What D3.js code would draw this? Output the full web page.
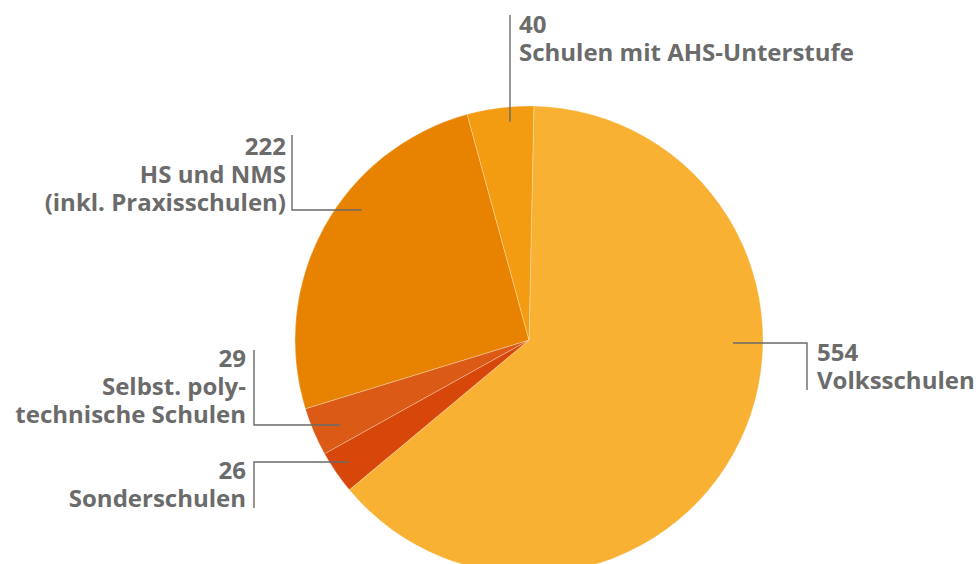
<!DOCTYPE html>
<html>
<head>
<meta charset="utf-8">
<script src="https://cdn.jsdelivr.net/npm/d3@7"></script>
<style>
  body { margin: 0; background: #fff; }
  svg { display: block; }
</style>
</head>
<body>
<div id="chart"></div>
<script>
const width = 979;
const height = 564;

// data, in drawing order (clockwise from the top)
const categories = ['Volksschulen', 'Sonderschulen', 'Selbst. polytechnische Schulen', 'HS und NMS (inkl. Praxisschulen)', 'Schulen mit AHS-Unterstufe'];
const values = [554, 26, 29, 222, 40];
const colors = ['#f8b133', '#d8470a', '#da5a16', '#e88301', '#f39c11'];
const labelLines = [
    ['Volksschulen'],
    ['Sonderschulen'],
    ['Selbst. poly-', 'technische Schulen'],
    ['HS und NMS', '(inkl. Praxisschulen)'],
    ['Schulen mit AHS-Unterstufe']
];

// label layout: leader end inside slice (r, angle in deg) + text anchor
const labelLayout = [
    {r: 204, a: 90.8,  elbow: [807, 343], bar: [807, 390], tx: 817, ty: 361, anchor: 'start'},
    {r: 218, a: 236.0, elbow: [254, 462], bar: [254, 508], tx: 246, ty: 479, anchor: 'end'},
    {r: 207, a: 245.8, elbow: [254, 425], bar: [254, 350], tx: 246, ty: 367, anchor: 'end'},
    {r: 212, a: 307.9, elbow: [292, 210], bar: [292, 135], tx: 286, ty: 155, anchor: 'end'},
    {r: 219, a: 355.3, elbow: null,       bar: [510, 15],  tx: 519, ty: 33,  anchor: 'start'}
];

const cx = 529, cy = 340, radius = 234;
const startOffset = 1.2 * Math.PI / 180;

const svg = d3.select('#chart')
    .append('svg')
    .attr('width', width)
    .attr('height', height);

const pie = d3.pie()
    .sort(null)
    .value(d => d)
    .startAngle(startOffset)
    .endAngle(2 * Math.PI + startOffset);

const arcs = pie(values);

const arc = d3.arc()
    .innerRadius(0)
    .outerRadius(radius);

const g = svg.append('g').attr('transform', `translate(${cx},${cy})`);

g.selectAll('path')
    .data(arcs)
    .join('path')
        .attr('d', arc)
        .attr('fill', (d, i) => colors[i])
        .attr('stroke', 'rgba(255,255,255,0.35)')
        .attr('stroke-width', 0.8);

// leader lines
const polar = (r, a) => {
    const rad = a * Math.PI / 180;
    return [cx + r * Math.sin(rad), cy - r * Math.cos(rad)];
};

const leaders = svg.append('g')
    .attr('fill', 'none')
    .attr('stroke', '#6a6a6a')
    .attr('stroke-width', 1.4);

labelLayout.forEach((l, i) => {
    const end = polar(l.r, l.a);
    let pts;
    if (l.elbow) {
        pts = [[end[0], l.elbow[1]], l.elbow, l.bar];
    } else {
        pts = [[l.bar[0], end[1]], l.bar];
    }
    leaders.append('path').attr('d', d3.line()(pts));
});

// labels
const labels = svg.append('g')
    .style('font-family', '"Open Sans", sans-serif')
    .style('font-weight', '700')
    .style('font-size', '24px')
    .attr('fill', '#6b6b6b');

labelLayout.forEach((l, i) => {
    const t = labels.append('text')
        .attr('x', l.tx)
        .attr('y', l.ty)
        .attr('text-anchor', l.anchor);
    t.append('tspan').attr('x', l.tx).text(values[i]);
    labelLines[i].forEach(line => {
        t.append('tspan').attr('x', l.tx).attr('dy', 28).text(line);
    });
});
</script>
</body>
</html>
